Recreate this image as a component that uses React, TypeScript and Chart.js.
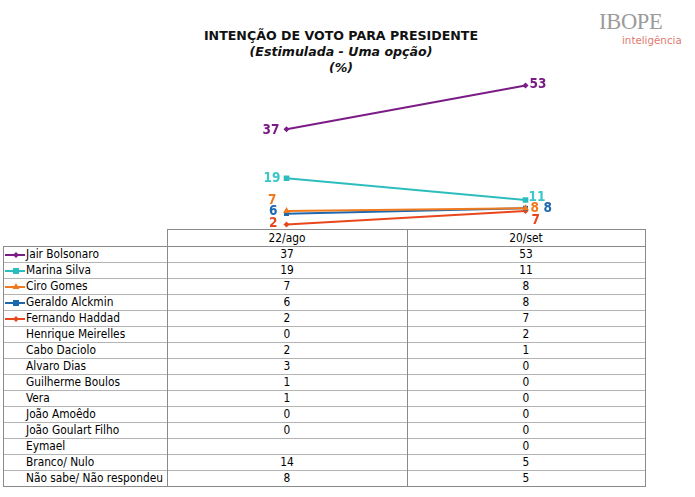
import React, { useEffect, useRef } from "react";
import { Chart, registerables } from "chart.js";
Chart.register(...registerables);

// ---- data ----
const categories = ["22/ago", "20/set"];
const seriesNames = ["Jair Bolsonaro", "Marina Silva", "Ciro Gomes", "Geraldo Alckmin", "Fernando Haddad"];
const jairValues = [37, 53];
const marinaValues = [19, 11];
const ciroValues = [7, 8];
const geraldoValues = [6, 8];
const haddadValues = [2, 7];

const rowNames = [
  "Jair Bolsonaro", "Marina Silva", "Ciro Gomes", "Geraldo Alckmin", "Fernando Haddad",
  "Henrique Meirelles", "Cabo Daciolo", "Alvaro Dias", "Guilherme Boulos", "Vera",
  "João Amoêdo", "João Goulart Filho", "Eymael", "Branco/ Nulo", "Não sabe/ Não respondeu",
];
const colAgo = ["37", "19", "7", "6", "2", "0", "2", "3", "1", "1", "0", "0", "", "14", "8"];
const colSet = ["53", "11", "8", "8", "7", "2", "1", "0", "0", "0", "0", "0", "0", "5", "5"];

// ---- styles ----
const seriesColors = ["#7B1C86", "#2DBDBE", "#F07A20", "#1E68AE", "#E8461C"];
const labelColors = ["#7B1C86", "#3CC6C6", "#F07A20", "#1E68AE", "#E8461C"];
const pointStyles: any[] = ["rectRot", "rect", "triangle", "rect", "rectRot"];
const pointRadii = [3, 4, 4, 3.5, 3];
// label offsets relative to point: [dx, dy, align]
const labelOffsets: [number, number, CanvasTextAlign][][] = [
  [[-7, 1, "right"], [4, -1, "left"]],
  [[-6, 0, "right"], [3, -3, "left"]],
  [[-10, -10, "right"], [5, 0, "left"]],
  [[-9, -2, "right"], [18, 0, "left"]],
  [[-9, -1, "right"], [6, 10, "left"]],
];

const TABLE_FONT = "'DejaVu Sans Condensed', 'Liberation Sans', sans-serif";

const labelPlugin = {
  id: "valueLabels",
  afterDatasetsDraw(chart: any) {
    const ctx = chart.ctx;
    ctx.save();
    ctx.font = "bold 13.5px 'DejaVu Sans Condensed', 'DejaVu Sans', sans-serif";
    ctx.textBaseline = "middle";
    chart.data.datasets.forEach((ds: any, i: number) => {
      const meta = chart.getDatasetMeta(i);
      meta.data.forEach((pt: any, j: number) => {
        const [dx, dy, align] = labelOffsets[i][j];
        ctx.fillStyle = labelColors[i];
        ctx.textAlign = align;
        ctx.fillText(String(ds.data[j]), pt.x + dx, pt.y + dy);
      });
    });
    ctx.restore();
  },
};

function LegendMark({ idx }: { idx: number }) {
  const c = seriesColors[idx];
  const style = pointStyles[idx];
  let marker: any = null;
  if (style === "rect") marker = <rect x={9} y={5} width={6} height={6} fill={c} />;
  else if (style === "triangle") marker = <polygon points="12,4 15.5,10 8.5,10" fill={c} />;
  else marker = <polygon points="12,5 15,8 12,11 9,8" fill={c} />;
  return (
    <svg width={22} height={16} style={{ position: "absolute", left: 4, top: 0 }}>
      <line x1={1} y1={8} x2={21} y2={8} stroke={c} strokeWidth={2} />
      {marker}
    </svg>
  );
}

export default function App() {
  const canvasRef = useRef<HTMLCanvasElement | null>(null);

  useEffect(() => {
    if (!canvasRef.current) return;
    const allValues = [jairValues, marinaValues, ciroValues, geraldoValues, haddadValues];
    const chart = new Chart(canvasRef.current, {
      type: "line",
      data: {
        labels: categories,
        datasets: allValues.map((v, i) => ({
          label: seriesNames[i],
          data: v,
          borderColor: seriesColors[i],
          backgroundColor: seriesColors[i],
          borderWidth: 2,
          pointStyle: pointStyles[i],
          pointRadius: pointRadii[i],
          pointBorderWidth: 0,
          tension: 0,
        })),
      },
      options: {
        responsive: false,
        animation: false,
        layout: { padding: { left: 167, right: 50, top: 66.5, bottom: 267 } },
        plugins: { legend: { display: false }, tooltip: { enabled: false }, title: { display: false } },
        scales: {
          x: { type: "category", offset: true, display: false },
          y: { min: 0, max: 60, display: false },
        },
      },
      plugins: [labelPlugin],
    });
    return () => chart.destroy();
  }, []);

  const rowTop = (r: number) => 246 + r * 16;
  const hLines = [];
  for (let i = 0; i <= 15; i++) {
    hLines.push(
      <div key={"h" + i} style={{ position: "absolute", left: 3, top: rowTop(i), width: 643, height: 1, background: i === 0 || i === 15 ? "#8a8a8a" : "#b4b4b4" }} />
    );
  }
  const vLines = [
    { x: 3, top: 246 },
    { x: 167, top: 229 },
    { x: 407, top: 229 },
    { x: 645, top: 229 },
  ].map((v, i) => (
    <div key={"v" + i} style={{ position: "absolute", left: v.x, top: v.top, width: 1, height: 487 - v.top, background: "#8a8a8a" }} />
  ));

  const cellText: React.CSSProperties = {
    position: "absolute",
    height: 16,
    lineHeight: "16px",
    fontFamily: TABLE_FONT,
    fontSize: 11.8,
    color: "#000",
    whiteSpace: "nowrap",
  };

  return (
    <div style={{ position: "absolute", left: 0, top: 0, width: 695, height: 497, background: "#fff", overflow: "hidden" }}>
      {/* title */}
      <div style={{ position: "absolute", left: 0, top: 28, width: 682, textAlign: "center", fontFamily: "'DejaVu Sans', sans-serif", fontWeight: "bold", fontSize: 12.6, lineHeight: "16px", color: "#111" }}>
        <div>INTENÇÃO DE VOTO PARA PRESIDENTE</div>
        <div style={{ fontStyle: "italic" }}>(Estimulada - Uma opção)</div>
        <div style={{ fontStyle: "italic" }}>(%)</div>
      </div>
      {/* logo */}
      <div style={{ position: "absolute", left: 599, top: 9, fontFamily: "'Liberation Serif', serif", fontSize: 22.5, lineHeight: "26px", color: "#9b9b9b", letterSpacing: -0.3 }}>IBOPE</div>
      <div style={{ position: "absolute", left: 622, top: 33, fontFamily: "'DejaVu Sans', sans-serif", fontSize: 10.3, lineHeight: "14px", color: "#E07A6E" }}>inteligência</div>

      {/* table */}
      <div style={{ position: "absolute", left: 167, top: 229, width: 479, height: 1, background: "#8a8a8a" }} />
      {hLines}
      {vLines}
      <div style={{ ...cellText, left: 167, top: 230, width: 240, textAlign: "center" }}>{categories[0]}</div>
      <div style={{ ...cellText, left: 407, top: 230, width: 238, textAlign: "center" }}>{categories[1]}</div>
      {rowNames.map((name, r) => (
        <div key={"r" + r} style={{ position: "absolute", left: 0, top: rowTop(r) + 1, width: 695, height: 16 }}>
          {r < 5 ? <LegendMark idx={r} /> : null}
          <div style={{ ...cellText, left: 26, top: -1 }}>{name}</div>
          <div style={{ ...cellText, left: 167, top: -1, width: 240, textAlign: "center" }}>{colAgo[r]}</div>
          <div style={{ ...cellText, left: 407, top: -1, width: 238, textAlign: "center" }}>{colSet[r]}</div>
        </div>
      ))}

      <canvas ref={canvasRef} width={695} height={497} style={{ position: "absolute", left: 0, top: 0, width: 695, height: 497 }} />
    </div>
  );
}
